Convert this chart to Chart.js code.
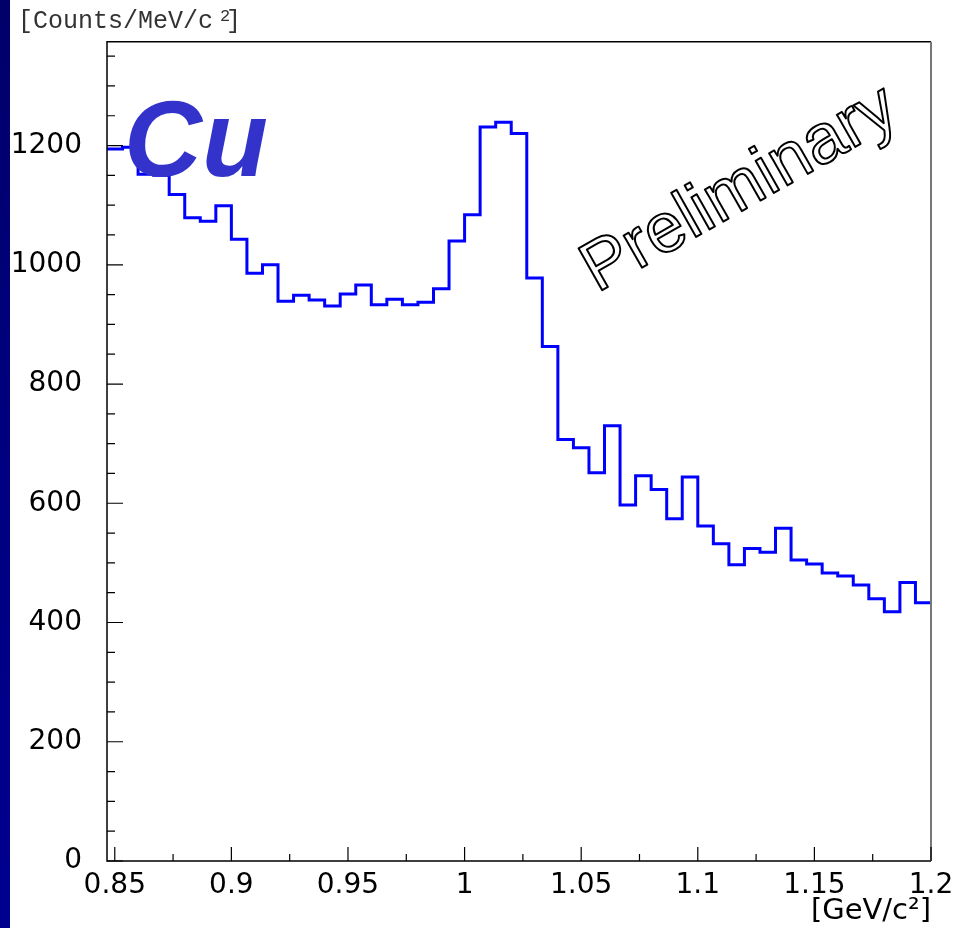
<!DOCTYPE html>
<html>
<head>
<meta charset="utf-8">
<script src="https://cdn.jsdelivr.net/npm/chart.js@4.4.1/dist/chart.umd.min.js"></script>
<style>
  html, body { margin: 0; padding: 0; background: #fff; }
  #wrap { width: 975px; height: 928px; position: relative; }
</style>
</head>
<body>
<div id="wrap"><canvas id="hist"></canvas></div>
<script>
// K+K- invariant mass, Cu target: 53 bins of 6.67 MeV shown between 0.8467 and 1.2 GeV/c2
const xMin = 0.846667
const xMax = 1.2
const binWidth = 0.4 / 60
const counts = [
  1194, 1197, 1152, 1150, 1118, 1079, 1073, 1099, 1043, 986,
  1000, 939, 949, 941, 931, 951, 966, 933, 942, 933,
  937, 960, 1040, 1084, 1231, 1239, 1220, 978, 863, 707,
  693, 651, 730, 597, 646, 623, 574, 644, 562, 532,
  497, 524, 518, 558, 505, 498, 483, 478, 463, 440,
  418, 467, 433
]
const yMax = 1374

const xTickValues = [0.85, 0.9, 0.95, 1.0, 1.05, 1.1, 1.15, 1.2]
const xTickLabels = ['0.85', '0.9', '0.95', '1', '1.05', '1.1', '1.15', '1.2']
const xMinorTicks = [0.875, 0.925, 0.975, 1.025, 1.075, 1.125, 1.175]
const yTickValues = [0, 200, 400, 600, 800, 1000, 1200]
const yTickLabels = ['0', '200', '400', '600', '800', '1000', '1200']
const yMinorTicks = [50, 100, 150, 250, 300, 350, 450, 500, 550, 650, 700, 750,
  850, 900, 950, 1050, 1100, 1150, 1250, 1300, 1350]

// left edge of every bin, plus the closing edge at 1.2
const points = counts.map((c, i) => ({ x: xMin + i * binWidth, y: c }))
points.push({ x: xMax, y: counts[counts.length - 1] })

const SANS = '"DejaVu Sans", Verdana, sans-serif'
const HELV = '"Liberation Sans", Arial, Helvetica, sans-serif'

const decor = {
  id: 'decor',
  beforeDraw (chart) {
    const ctx = chart.ctx
    ctx.save()
    ctx.fillStyle = '#fff'
    ctx.fillRect(0, 0, chart.width, chart.height)
    const g = ctx.createLinearGradient(0, 0, 0, chart.height)
    g.addColorStop(0, '#00006a')
    g.addColorStop(0.5, '#000080')
    g.addColorStop(1, '#000090')
    ctx.fillStyle = g
    ctx.fillRect(0, 0, 10, chart.height)
    ctx.restore()
  },
  afterDraw (chart) {
    const ctx = chart.ctx
    const a = chart.chartArea
    const xs = chart.scales.x
    const ys = chart.scales.y
    ctx.save()

    // frame
    ctx.lineWidth = 1.5
    ctx.strokeStyle = '#000'
    ctx.beginPath()
    ctx.moveTo(a.right, a.top)
    ctx.lineTo(a.left, a.top)
    ctx.lineTo(a.left, a.bottom)
    ctx.lineTo(a.right, a.bottom)
    ctx.stroke()
    ctx.strokeStyle = '#777'
    ctx.lineWidth = 2
    ctx.beginPath()
    ctx.moveTo(a.right, a.top)
    ctx.lineTo(a.right, a.bottom)
    ctx.stroke()

    // inward ticks
    ctx.strokeStyle = '#000'
    ctx.lineWidth = 1.2
    ctx.beginPath()
    xTickValues.forEach(v => {
      const px = xs.getPixelForValue(v)
      ctx.moveTo(px, a.bottom); ctx.lineTo(px, a.bottom - 14)
    })
    xMinorTicks.forEach(v => {
      const px = xs.getPixelForValue(v)
      ctx.moveTo(px, a.bottom); ctx.lineTo(px, a.bottom - 7)
    })
    yTickValues.forEach(v => {
      const py = ys.getPixelForValue(v)
      ctx.moveTo(a.left, py); ctx.lineTo(a.left + 16, py)
    })
    yMinorTicks.forEach(v => {
      const py = ys.getPixelForValue(v)
      ctx.moveTo(a.left, py); ctx.lineTo(a.left + 8, py)
    })
    ctx.stroke()

    // axis titles
    ctx.fillStyle = '#333'
    ctx.textBaseline = 'alphabetic'
    ctx.textAlign = 'left'
    ctx.font = '25px "Liberation Mono", "Courier New", monospace'
    ctx.fillText('[Counts/MeV/c', 18, 28)
    ctx.font = '17px "Liberation Mono", "Courier New", monospace'
    ctx.fillText('2', 220, 21)
    ctx.font = '25px "Liberation Mono", "Courier New", monospace'
    ctx.fillText(']', 226, 28)

    ctx.fillStyle = '#000'
    ctx.textAlign = 'right'
    ctx.font = '29px ' + SANS
    ctx.fillText('[GeV/c²]', 931, 919)

    // target label
    ctx.fillStyle = '#3333cc'
    ctx.textAlign = 'left'
    ctx.font = 'italic bold 108px ' + HELV
    ctx.fillText('Cu', 124, 176)

    // outlined watermark
    ctx.translate(740, 190)
    ctx.rotate(-29.5 * Math.PI / 180)
    ctx.font = '70px ' + HELV
    ctx.textAlign = 'center'
    ctx.textBaseline = 'middle'
    ctx.fillStyle = '#fff'
    ctx.fillText('Preliminary', 0, 0)
    ctx.strokeStyle = '#000'
    ctx.lineWidth = 2
    ctx.lineJoin = 'round'
    ctx.strokeText('Preliminary', 0, 0)
    ctx.restore()
  }
}

new Chart(document.getElementById('hist'), {
  type: 'line',
  data: {
    datasets: [{
      data: points,
      stepped: 'before',
      borderColor: '#0000ff',
      borderWidth: 3,
      pointRadius: 0,
      fill: false,
      borderJoinStyle: 'miter'
    }]
  },
  options: {
    responsive: true,
    maintainAspectRatio: false,
    animation: false,
    events: [],
    layout: { padding: { top: 39, right: 44, left: 0, bottom: 0 } },
    plugins: { legend: { display: false }, tooltip: { enabled: false } },
    scales: {
      x: {
        type: 'linear',
        min: xMin,
        max: xMax,
        grid: { display: false, drawTicks: false },
        border: { display: false },
        afterBuildTicks: s => { s.ticks = xTickValues.map(v => ({ value: v })) },
        afterFit: s => { s.height = 67 },
        ticks: {
          autoSkip: false,
          maxRotation: 0,
          padding: 8,
          color: '#000',
          font: { family: SANS, size: 28 },
          callback: (v, i) => xTickLabels[i]
        }
      },
      y: {
        type: 'linear',
        min: 0,
        max: yMax,
        grid: { display: false, drawTicks: false },
        border: { display: false },
        afterBuildTicks: s => { s.ticks = yTickValues.map(v => ({ value: v })) },
        afterFit: s => { s.width = 107 },
        ticks: {
          autoSkip: false,
          padding: 25,
          color: '#000',
          font: { family: SANS, size: 28 },
          callback: (v, i) => yTickLabels[i]
        }
      }
    }
  },
  plugins: [decor]
})
</script>
</body>
</html>
